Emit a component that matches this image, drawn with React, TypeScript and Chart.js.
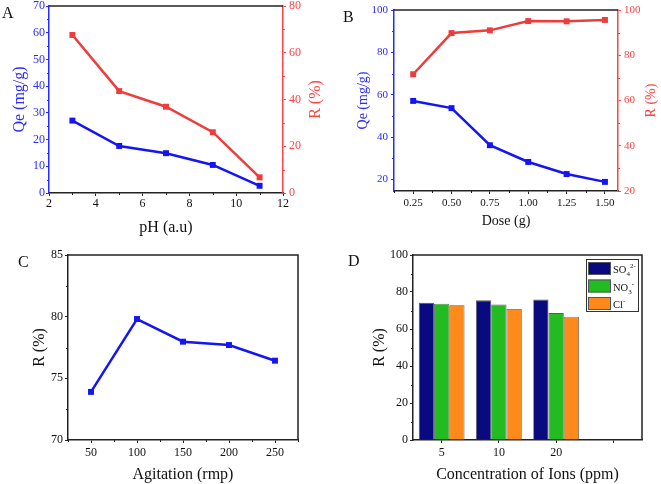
import React, { useEffect, useRef } from 'react';
import { Chart, registerables } from 'chart.js';
Chart.register(...registerables);

const FONT = "'Liberation Serif', 'Times New Roman', serif";

// ---- Panel A: effect of pH ----
const PH = [3, 5, 7, 9, 11];
const QE_PH = [27.1, 17.6, 14.9, 10.5, 2.7];
const R_PH = [67.6, 43.6, 36.9, 26.0, 6.7];
const PH_TICKS = [2, 4, 6, 8, 10, 12];
const QE_PH_TICKS = [0, 10, 20, 30, 40, 50, 60, 70];
const R_PH_TICKS = [0, 20, 40, 60, 80];

// ---- Panel B: effect of dose ----
const DOSE = [0.25, 0.5, 0.75, 1.0, 1.25, 1.5];
const QE_DOSE = [57.1, 53.7, 36.2, 28.3, 22.6, 18.9];
const R_DOSE = [71.6, 89.8, 91.0, 95.1, 95.0, 95.6];
const DOSE_TICKS = [0.25, 0.5, 0.75, 1.0, 1.25, 1.5];
const QE_DOSE_TICKS = [20, 40, 60, 80, 100];
const R_DOSE_TICKS = [20, 40, 60, 80, 100];

// ---- Panel C: effect of agitation ----
const AGITATION = [50, 100, 150, 200, 250];
const R_AGIT = [73.9, 79.81, 77.97, 77.7, 76.43];
const AGIT_TICKS = [50, 100, 150, 200, 250];
const R_AGIT_TICKS = [70, 75, 80, 85];

// ---- Panel D: effect of competing ions ----
const ION_CONC = ['5', '10', '20', ''];
const R_SO4 = [74.2, 75.5, 75.9];
const R_NO3 = [73.7, 73.3, 68.6];
const R_CL = [72.8, 70.8, 66.6];
const ION_NAMES = ['SO₄²⁻', 'NO₃⁻', 'Cl⁻'];
const ION_LEGEND: [string, string][][] = [
  [['SO', ''], ['4', 'sub'], ['2-', 'sup']],
  [['NO', ''], ['3', 'sub'], ['-', 'sup']],
  [['Cl', ''], ['-', 'sup']],
];
const R_ION_TICKS = [0, 20, 40, 60, 80, 100];

const BLUE = '#1414f5';
const RED = '#ee3c3c';
const AX_BLUE = '#2a2aff';
const AX_RED = '#ff4444';
const BLACK = '#222';

const fitW = (w: number) => (s: any) => { s.width = w; s.paddingTop = 0; s.paddingBottom = 0; };
const fitH = (h: number) => (s: any) => { s.height = h; s.paddingLeft = 0; s.paddingRight = 0; };
const setTicks = (vals: number[]) => (s: any) => { s.ticks = vals.map((value) => ({ value })); };

const minorTicksPlugin = {
  id: 'minorTicks',
  afterDraw(chart: any, _a: any, opts: any) {
    const ctx = chart.ctx;
    for (const m of opts.scales || []) {
      const s = chart.scales[m.id];
      if (!s) continue;
      const vals = s.ticks.map((t: any) => t.value);
      if (vals.length < 2) continue;
      const step = vals[1] - vals[0];
      const len = m.len ?? 2;
      ctx.save();
      ctx.strokeStyle = m.color;
      ctx.lineWidth = 1;
      for (let v = vals[0] - step / 2; v <= s.max + 1e-9; v += step) {
        if (v < s.min - 1e-9) continue;
        const p = Math.round(s.getPixelForValue(v)) + 0.5;
        ctx.beginPath();
        if (s.position === 'left') { ctx.moveTo(s.right, p); ctx.lineTo(s.right - len, p); }
        else if (s.position === 'right') { ctx.moveTo(s.left, p); ctx.lineTo(s.left + len, p); }
        else { ctx.moveTo(p, s.top); ctx.lineTo(p, s.top + len); }
        ctx.stroke();
      }
      ctx.restore();
    }
  },
};

const decorPlugin = {
  id: 'decor',
  afterDraw(chart: any, _a: any, opts: any) {
    const ctx = chart.ctx;
    const ca = chart.chartArea;
    ctx.save();
    ctx.strokeStyle = BLACK;
    ctx.lineWidth = 1.5;
    ctx.beginPath();
    ctx.moveTo(ca.left, ca.top);
    ctx.lineTo(ca.right, ca.top);
    if (opts.rightFrame) ctx.lineTo(ca.right, ca.bottom);
    ctx.stroke();
    if (opts.letter) {
      ctx.fillStyle = '#111';
      ctx.font = `16px ${FONT}`;
      ctx.textBaseline = 'alphabetic';
      ctx.textAlign = 'left';
      ctx.fillText(opts.letter.text, opts.letter.x, opts.letter.y);
    }
    if (opts.rightTitle) {
      const t = opts.rightTitle;
      ctx.translate(t.x, (ca.top + ca.bottom) / 2);
      ctx.rotate(-Math.PI / 2);
      ctx.fillStyle = t.color;
      ctx.font = `${t.size}px ${FONT}`;
      ctx.textAlign = 'center';
      ctx.textBaseline = 'middle';
      ctx.fillText(t.text, 0, 0);
    }
    ctx.restore();
  },
};

const ionLegendPlugin = {
  id: 'ionLegend',
  afterDraw(chart: any, _a: any, opts: any) {
    if (!opts.rows) return;
    const ctx = chart.ctx;
    const { x, y, w, h } = opts;
    ctx.save();
    ctx.fillStyle = '#fff';
    ctx.fillRect(x, y, w, h);
    ctx.strokeStyle = '#333';
    ctx.lineWidth = 1;
    ctx.strokeRect(x + 0.5, y + 0.5, w, h);
    opts.rows.forEach((parts: [string, string][], i: number) => {
      const ds = chart.data.datasets[i];
      const ry = y + 3 + i * 17.5;
      ctx.fillStyle = ds.backgroundColor;
      ctx.fillRect(x + 2, ry, 23, 13);
      ctx.strokeStyle = '#555';
      ctx.strokeRect(x + 2.5, ry + 0.5, 22, 12);
      let tx = x + 27;
      const base = ry + 11;
      ctx.fillStyle = '#111';
      ctx.textBaseline = 'alphabetic';
      ctx.textAlign = 'left';
      for (const [txt, kind] of parts) {
        const size = kind ? 7 : 10.5;
        ctx.font = `${size}px ${FONT}`;
        const dy = kind === 'sub' ? 3 : kind === 'sup' ? -5 : 0;
        ctx.fillText(txt, tx, base + dy);
        tx += ctx.measureText(txt).width;
      }
    });
    ctx.restore();
  },
};

function axis(opts: any) {
  const {
    position, color, textColor, min, max, ticks, width, height, fmt, title, titleSize,
    titlePad, tickSize, tickPad, type,
  } = opts;
  const o: any = {
    type: type || 'linear',
    position,
    min,
    max,
    border: { display: true, color, width: 1.5 },
    grid: {
      display: true, drawOnChartArea: false, drawTicks: true, tickLength: 3,
      color, tickColor: color, tickWidth: 1, offset: false,
    },
    ticks: {
      color: textColor,
      font: { family: FONT, size: tickSize },
      padding: tickPad,
      autoSkip: false,
      maxRotation: 0,
      minRotation: 0,
    },
    title: { display: false },
    afterFit: width != null ? fitW(width) : fitH(height),
  };
  if (ticks) o.afterBuildTicks = setTicks(ticks);
  if (fmt) o.ticks.callback = fmt;
  if (title) {
    o.title = {
      display: true,
      text: title,
      color: textColor,
      font: { family: FONT, size: titleSize, lineHeight: 1 },
      padding: position === 'bottom' ? { top: 0, bottom: titlePad } : { top: titlePad, bottom: 0 },
    };
  }
  return o;
}

function lineDs(xs: number[], ys: number[], color: string, yAxisID: string) {
  return {
    data: xs.map((x, i) => ({ x, y: ys[i] })),
    borderColor: color,
    backgroundColor: color,
    borderWidth: 2.5,
    pointStyle: 'rect',
    pointRadius: 4.2,
    pointBorderWidth: 0,
    pointBackgroundColor: color,
    yAxisID,
    tension: 0,
  };
}

const baseOptions = (top: number, right: number) => ({
  responsive: false,
  maintainAspectRatio: false,
  devicePixelRatio: 1,
  animation: false,
  layout: { padding: { top, right, left: 0, bottom: 0 } },
});

function configA(): any {
  return {
    type: 'line',
    data: { datasets: [lineDs(PH, QE_PH, BLUE, 'y'), lineDs(PH, R_PH, RED, 'y1')] },
    options: {
      ...baseOptions(6, 0),
      plugins: {
        legend: { display: false }, tooltip: { enabled: false },
        minorTicks: { scales: [{ id: 'x', color: BLACK }, { id: 'y', color: AX_BLUE }, { id: 'y1', color: AX_RED }] },
        decor: { letter: { text: 'A', x: 2, y: 18 }, rightTitle: { text: 'R (%)', x: 316, color: AX_RED, size: 16 } },
      },
      scales: {
        x: axis({ position: 'bottom', color: BLACK, textColor: '#111', min: 2, max: 12, ticks: PH_TICKS, height: 47, title: 'pH (a.u)', titleSize: 16, titlePad: 4, tickSize: 12, tickPad: 1 }),
        y: axis({ position: 'left', color: AX_BLUE, textColor: AX_BLUE, min: 0, max: 70, ticks: QE_PH_TICKS, width: 49, title: 'Qe (mg/g)', titleSize: 16, titlePad: 11.5, tickSize: 12, tickPad: 1 }),
        y1: axis({ position: 'right', color: AX_RED, textColor: AX_RED, min: 0, max: 80, ticks: R_PH_TICKS, width: 47, tickSize: 12, tickPad: 3 }),
      },
    },
    plugins: [minorTicksPlugin, decorPlugin],
  };
}

function configB(): any {
  return {
    type: 'line',
    data: { datasets: [lineDs(DOSE, QE_DOSE, BLUE, 'y'), lineDs(DOSE, R_DOSE, RED, 'y1')] },
    options: {
      ...baseOptions(10, 0),
      plugins: {
        legend: { display: false }, tooltip: { enabled: false },
        minorTicks: { scales: [{ id: 'x', color: BLACK }, { id: 'y', color: AX_BLUE }, { id: 'y1', color: AX_RED }] },
        decor: { letter: { text: 'B', x: 13, y: 22 }, rightTitle: { text: 'R (%)', x: 321.5, color: AX_RED, size: 14 } },
      },
      scales: {
        x: axis({ position: 'bottom', color: BLACK, textColor: '#111', min: 0.125, max: 1.585, ticks: DOSE_TICKS, height: 49, title: 'Dose (g)', titleSize: 14, titlePad: 11.3, tickSize: 11, tickPad: 3, fmt: (v: any) => Number(v).toFixed(2) }),
        y: axis({ position: 'left', color: AX_BLUE, textColor: AX_BLUE, min: 14.6, max: 100, ticks: QE_DOSE_TICKS, width: 64, title: 'Qe (mg/g)', titleSize: 14, titlePad: 26, tickSize: 11, tickPad: 3 }),
        y1: axis({ position: 'right', color: AX_RED, textColor: AX_RED, min: 20, max: 100, ticks: R_DOSE_TICKS, width: 43, tickSize: 11, tickPad: 3 }),
      },
    },
    plugins: [minorTicksPlugin, decorPlugin],
  };
}

function configC(): any {
  return {
    type: 'line',
    data: { datasets: [lineDs(AGITATION, R_AGIT, BLUE, 'y')] },
    options: {
      ...baseOptions(15, 32),
      plugins: {
        legend: { display: false }, tooltip: { enabled: false },
        minorTicks: { scales: [{ id: 'x', color: BLACK }, { id: 'y', color: BLACK }] },
        decor: { rightFrame: true, letter: { text: 'C', x: 18, y: 27 } },
      },
      scales: {
        x: axis({ position: 'bottom', color: BLACK, textColor: '#111', min: 25, max: 275, ticks: AGIT_TICKS, height: 44, title: 'Agitation (rmp)', titleSize: 16, titlePad: 1, tickSize: 12, tickPad: 3 }),
        y: axis({ position: 'left', color: BLACK, textColor: '#111', min: 70, max: 85, ticks: R_AGIT_TICKS, width: 68, title: 'R (%)', titleSize: 16, titlePad: 32, tickSize: 12, tickPad: 2 }),
      },
    },
    plugins: [minorTicksPlugin, decorPlugin],
  };
}

function barDs(label: string, vals: number[], color: string) {
  return {
    label,
    data: vals,
    backgroundColor: color,
    borderColor: '#5a5a5a',
    borderWidth: 0.8,
    barPercentage: 1.0,
    categoryPercentage: 0.8,
  };
}

function configD(): any {
  return {
    type: 'bar',
    data: {
      labels: ION_CONC,
      datasets: [
        barDs(ION_NAMES[0], R_SO4, '#0a0a80'),
        barDs(ION_NAMES[1], R_NO3, '#22bb22'),
        barDs(ION_NAMES[2], R_CL, '#ff8a1c'),
      ],
    },
    options: {
      ...baseOptions(15, 19),
      plugins: {
        legend: { display: false }, tooltip: { enabled: false },
        minorTicks: { scales: [{ id: 'y', color: BLACK }] },
        decor: { rightFrame: true, letter: { text: 'D', x: 18, y: 26 } },
        ionLegend: { x: 256, y: 19, w: 52, h: 52, rows: ION_LEGEND },
      },
      scales: {
        x: { ...axis({ type: 'category', position: 'bottom', color: BLACK, textColor: '#111', height: 44, title: 'Concentration of Ions (ppm)', titleSize: 16, titlePad: 1, tickSize: 12, tickPad: 3 }), offset: true },
        y: axis({ position: 'left', color: BLACK, textColor: '#111', min: 0, max: 100, ticks: R_ION_TICKS, width: 83, title: 'R (%)', titleSize: 16, titlePad: 42, tickSize: 12, tickPad: 2 }),
      },
    },
    plugins: [minorTicksPlugin, decorPlugin, ionLegendPlugin],
  };
}

function Panel({ x, y, w, h, make }: { x: number; y: number; w: number; h: number; make: () => any }) {
  const ref = useRef<HTMLCanvasElement>(null);
  useEffect(() => {
    if (!ref.current) return;
    const chart = new Chart(ref.current, make());
    return () => chart.destroy();
  }, []);
  return (
    <canvas
      ref={ref}
      width={w}
      height={h}
      style={{ position: 'absolute', left: x, top: y, width: w, height: h, display: 'block' }}
    />
  );
}

export default function App() {
  return (
    <div style={{ position: 'fixed', left: 0, top: 0, width: 661, height: 484, background: '#fff', overflow: 'hidden' }}>
      <Panel x={0} y={0} w={330} h={240} make={configA} />
      <Panel x={330} y={0} w={331} h={240} make={configB} />
      <Panel x={0} y={240} w={330} h={244} make={configC} />
      <Panel x={330} y={240} w={331} h={244} make={configD} />
    </div>
  );
}
